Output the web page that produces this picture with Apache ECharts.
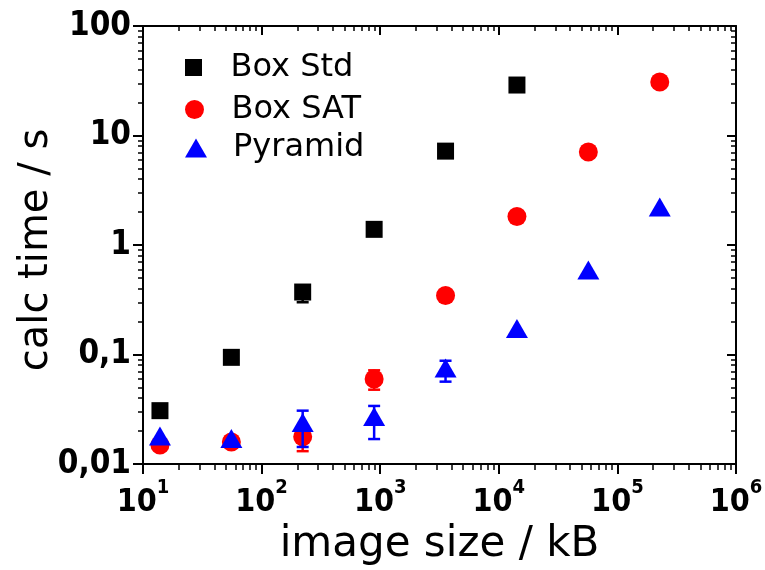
<!DOCTYPE html>
<html>
<head>
<meta charset="utf-8">
<script src="https://cdn.jsdelivr.net/npm/echarts@6/dist/echarts.min.js"></script>
<style>
  html, body { margin: 0; padding: 0; background: #fff; }
  #chart { width: 765px; height: 570px; }
</style>
</head>
<body>
<div id="chart"></div>
<script>
// Image sizes in kB (each step is 4x the previous one)
const imageSizes = [13.9, 55.6, 222, 889, 3556, 14222, 56889, 227556];

// Calculation times in seconds
const boxStd  = [0.0307, 0.0942, 0.372, 1.39, 7.2, 28.9];
const boxSat  = [0.0149, 0.0159, 0.0177, 0.0597, 0.346, 1.82, 7.06, 30.8];
const pyramid = [0.0180, 0.0171, 0.0239, 0.0272, 0.0753, 0.1726, 0.592, 2.22];

// Error bars: [image size, lower, upper]
const boxStdErr  = [[222, 0.300, 0.400]];
const boxSatErr  = [[222, 0.0131, 0.0223], [889, 0.0477, 0.0717]];
const pyramidErr = [[222, 0.0143, 0.0307], [889, 0.0169, 0.0339], [3556, 0.0565, 0.0877]];

// Tick labels
const xTickExponents = ['1', '2', '3', '4', '5', '6'];
const yTickLabels = ['0,01', '0,1', '1', '10', '100'];

const xMajor = [10, 100, 1000, 10000, 100000, 1000000];
const yMajor = [0.01, 0.1, 1, 10, 100];
const mantissas = [2, 3, 4, 5, 6, 7, 8, 9];
const xMinor = [];
xMajor.slice(0, -1).forEach(d => mantissas.forEach(m => xMinor.push(+(d * m).toPrecision(6))));
const yMinor = [];
yMajor.slice(0, -1).forEach(d => mantissas.forEach(m => yMinor.push(+(d * m).toPrecision(6))));

const tickFont = '"DejaVu Sans Condensed", "DejaVu Sans", sans-serif';
const textFont = '"DejaVu Sans", sans-serif';

function pair(list, values) {
  return values.map((v, i) => [list[i], v]);
}

function errorBar(color) {
  return function (params, api) {
    const x = api.value(0);
    const lo = api.coord([x, api.value(1)]);
    const hi = api.coord([x, api.value(2)]);
    const half = 6;
    const style = { stroke: color, lineWidth: 2.5, fill: null };
    return {
      type: 'group',
      children: [
        { type: 'line', shape: { x1: lo[0], y1: lo[1], x2: hi[0], y2: hi[1] }, style: style },
        { type: 'line', shape: { x1: lo[0] - half, y1: lo[1], x2: lo[0] + half, y2: lo[1] }, style: style },
        { type: 'line', shape: { x1: hi[0] - half, y1: hi[1], x2: hi[0] + half, y2: hi[1] }, style: style }
      ]
    };
  };
}

function logAxis(extra, min, max) {
  return Object.assign({
    type: 'log',
    logBase: 10,
    min: min,
    max: max,
    splitLine: { show: false },
    axisLabel: { show: false },
    axisLine: { show: false, onZero: false },
    axisTick: { show: false }
  }, extra);
}

const axisColor = '#000';

const xAxes = [
  logAxis({
    position: 'bottom',
    axisLine: { show: true, onZero: false, lineStyle: { color: axisColor, width: 2 } },
    axisTick: { show: true, inside: false, length: 10, lineStyle: { color: axisColor, width: 2 } },
    axisLabel: {
      show: true,
      margin: 14,
      formatter: function (v) {
        const e = xTickExponents[Math.round(Math.log10(v)) - 1];
        return '{b|10}{s|' + e + '}';
      },
      rich: {
        b: { fontSize: 32, fontWeight: 'bold', fontFamily: tickFont, color: '#000', lineHeight: 50 },
        s: { fontSize: 20, fontWeight: 'bold', fontFamily: tickFont, color: '#000', lineHeight: 20, verticalAlign: 'top' }
      }
    },
    name: 'image size / kB',
    nameLocation: 'middle',
    nameGap: 56,
    nameTextStyle: { fontSize: 42, fontFamily: textFont, color: '#000' }
  }, 10, 1000000),
  logAxis({
    position: 'bottom',
    axisTick: { show: true, inside: false, length: 6, customValues: xMinor, lineStyle: { color: axisColor, width: 1.5 } }
  }, 10, 1000000),
  logAxis({
    position: 'top',
    axisLine: { show: true, onZero: false, lineStyle: { color: axisColor, width: 2 } },
    axisTick: { show: true, inside: true, length: 9, lineStyle: { color: axisColor, width: 2 } }
  }, 10, 1000000),
  logAxis({
    position: 'top',
    axisTick: { show: true, inside: true, length: 5, customValues: xMinor, lineStyle: { color: axisColor, width: 1.5 } }
  }, 10, 1000000)
];

const yAxes = [
  logAxis({
    position: 'left',
    axisLine: { show: true, onZero: false, lineStyle: { color: axisColor, width: 2 } },
    axisTick: { show: true, inside: false, length: 10, lineStyle: { color: axisColor, width: 2 } },
    axisLabel: {
      show: true,
      margin: 12,
      fontSize: 33,
      fontWeight: 'bold',
      fontFamily: tickFont,
      color: '#000',
      formatter: function (v) {
        return yTickLabels[Math.round(Math.log10(v)) + 2];
      }
    },
    name: 'calc time / s',
    nameLocation: 'middle',
    nameGap: 86,
    nameMoveOverlap: false,
    nameTextStyle: { fontSize: 40, fontFamily: textFont, color: '#000', padding: [0, 10, 0, 0] }
  }, 0.01, 100),
  logAxis({
    position: 'left',
    axisTick: { show: true, inside: false, length: 5, customValues: yMinor, lineStyle: { color: axisColor, width: 1.5 } }
  }, 0.01, 100),
  logAxis({
    position: 'right',
    axisLine: { show: true, onZero: false, lineStyle: { color: axisColor, width: 2 } },
    axisTick: { show: true, inside: true, length: 9, lineStyle: { color: axisColor, width: 2 } }
  }, 0.01, 100),
  logAxis({
    position: 'right',
    axisTick: { show: true, inside: true, length: 5, customValues: yMinor, lineStyle: { color: axisColor, width: 1.5 } }
  }, 0.01, 100)
];

function legendEntry(name, icon, size, top) {
  return {
    data: [name],
    orient: 'vertical',
    left: 185,
    top: top,
    padding: 0,
    selectedMode: false,
    icon: icon,
    itemWidth: 64,
    itemHeight: size,
    symbolKeepAspect: true,
    textStyle: { fontSize: 32, fontFamily: textFont, color: '#000', lineHeight: size }
  };
}

const chart = echarts.init(document.getElementById('chart'), null, { renderer: 'canvas' });

chart.setOption({
  animation: false,
  backgroundColor: '#fff',
  grid: { left: 143, right: 29, top: 26, bottom: 106, containLabel: false, outerBoundsMode: 'none' },
  legend: [
    legendEntry('Box Std', 'path://M0,0H1V1H0Z', 17, 51.5),
    legendEntry('Box SAT', 'circle', 19, 93.5),
    legendEntry('Pyramid', 'path://M11,0L22,19L0,19Z', 19, 132)
  ],
  xAxis: xAxes,
  yAxis: yAxes,
  series: [
    {
      type: 'custom', name: 'Box Std error', renderItem: errorBar('#000'),
      data: boxStdErr, encode: { x: 0, y: [1, 2] }, z: 2
    },
    {
      type: 'scatter', name: 'Box Std', symbol: 'rect', symbolSize: 17,
      itemStyle: { color: '#000', opacity: 1 },
      data: pair(imageSizes, boxStd), z: 2
    },
    {
      type: 'custom', name: 'Box SAT error', renderItem: errorBar('#ff0000'),
      data: boxSatErr, encode: { x: 0, y: [1, 2] }, z: 3
    },
    {
      type: 'scatter', name: 'Box SAT', symbol: 'circle', symbolSize: 19,
      itemStyle: { color: '#ff0000', opacity: 1 },
      data: pair(imageSizes, boxSat), z: 3
    },
    {
      type: 'custom', name: 'Pyramid error', renderItem: errorBar('#0000ff'),
      data: pyramidErr, encode: { x: 0, y: [1, 2] }, z: 4
    },
    {
      type: 'scatter', name: 'Pyramid', symbol: 'triangle', symbolSize: [22, 19],
      itemStyle: { color: '#0000ff', opacity: 1 },
      data: pair(imageSizes, pyramid), z: 4
    }
  ]
});
</script>
</body>
</html>
